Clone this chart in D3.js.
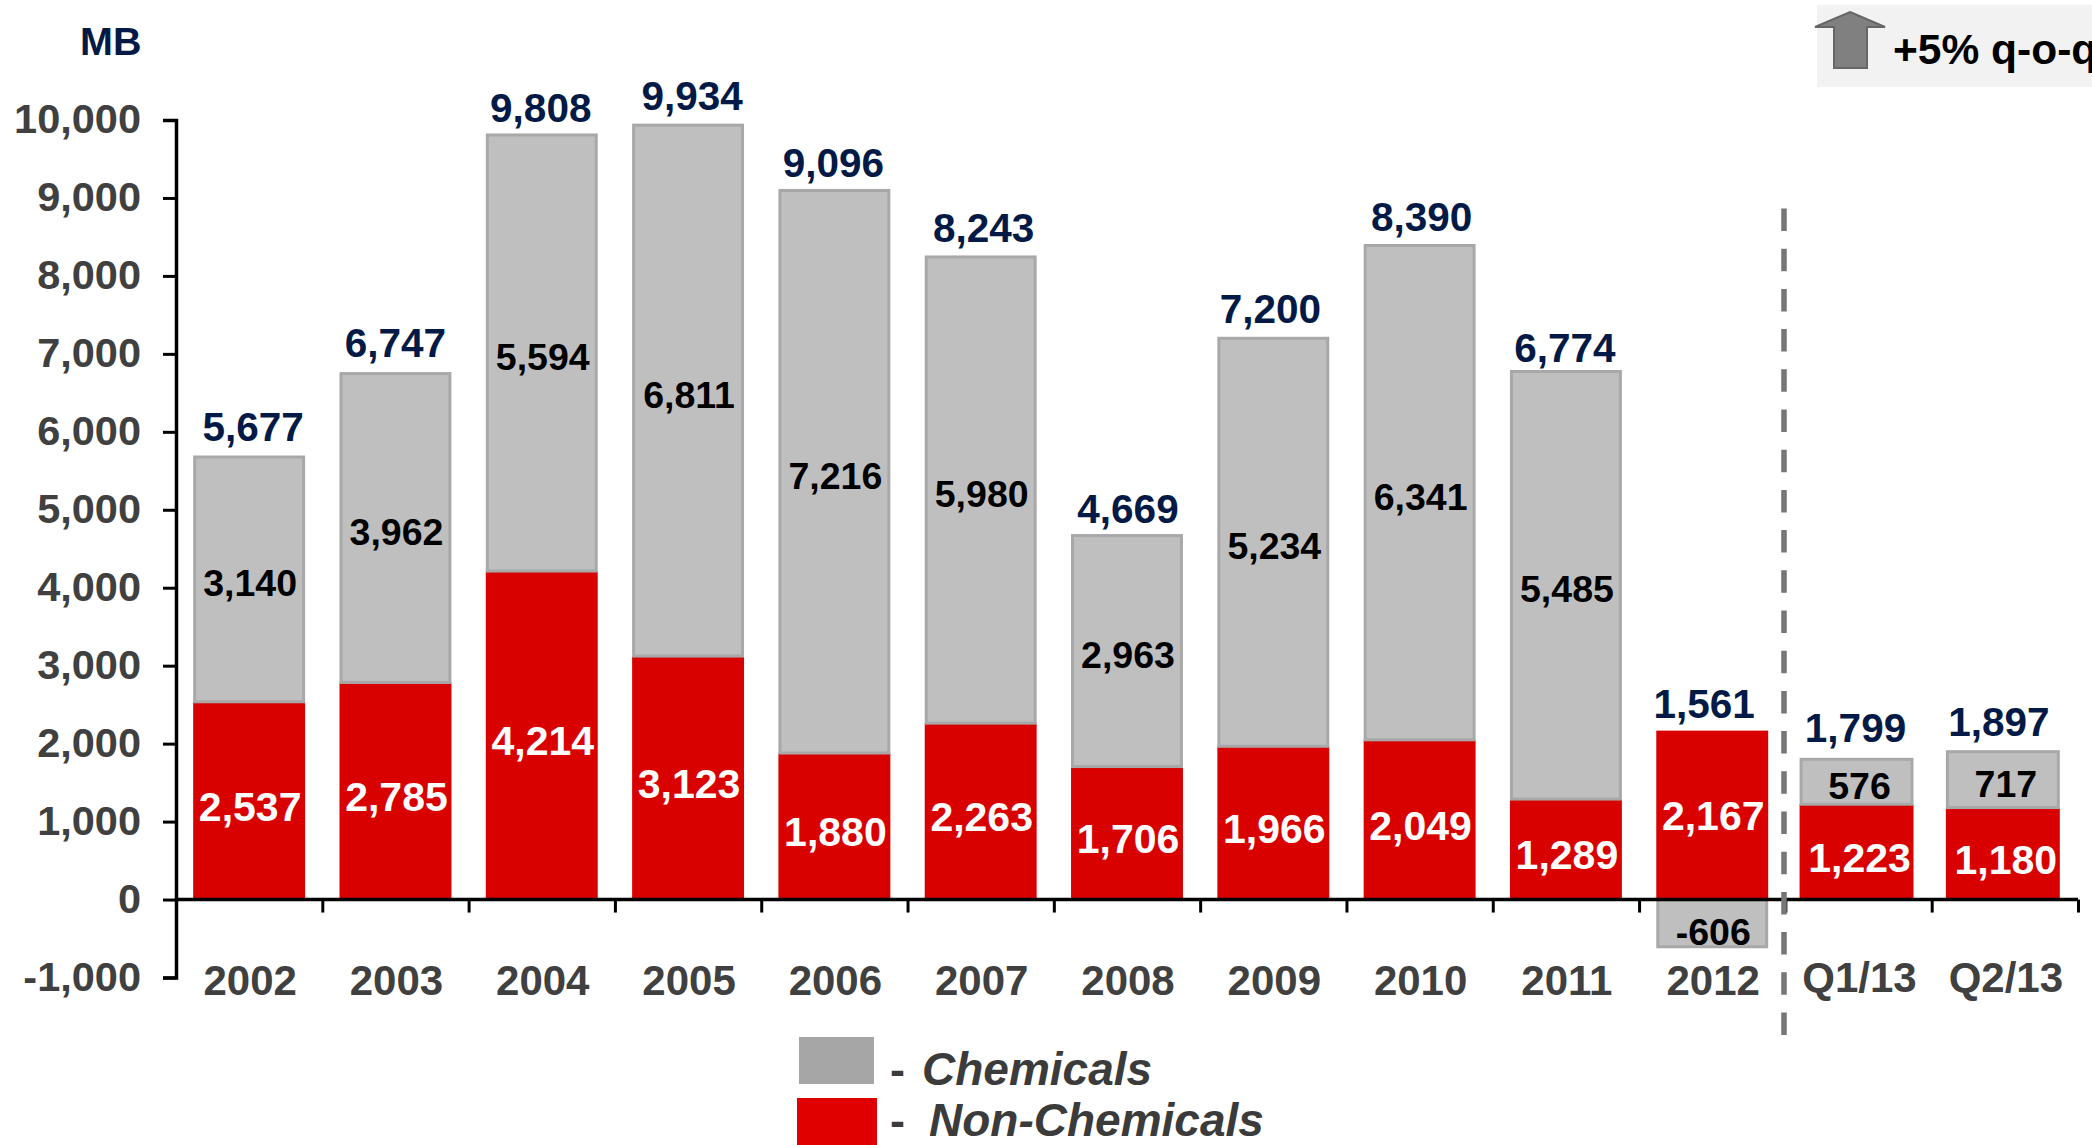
<!DOCTYPE html>
<html>
<head>
<meta charset="utf-8">
<script src="https://cdn.jsdelivr.net/npm/d3@7/dist/d3.min.js"></script>
<style>
html,body{margin:0;padding:0;background:#fff;overflow:hidden}
svg{display:block}
text{font-family:"Liberation Sans",Arial,sans-serif;font-weight:bold}
</style>
</head>
<body>
<svg id="c" width="2092" height="1145"></svg>
<script>
const categories = ["2002","2003","2004","2005","2006","2007","2008","2009","2010","2011","2012","Q1/13","Q2/13"];
const nonChemicals = [2537,2785,4214,3123,1880,2263,1706,1966,2049,1289,2167,1223,1180];
const chemicals = [3140,3962,5594,6811,7216,5980,2963,5234,6341,5485,-606,576,717];
const totals = [5677,6747,9808,9934,9096,8243,4669,7200,8390,6774,1561,1799,1897];
const yTicks = [-1000,0,1000,2000,3000,4000,5000,6000,7000,8000,9000,10000];
const legendLabels = ["Chemicals","Non-Chemicals"];
const calloutText = "+5% q-o-q";
// hand placement of the total labels in the reference (pixels)
const totalNudgeX = [2,-2,-3,2,-3,1,-1,-5,0,-3,-10,-5,-8];
const totalNudgeY = [-4,-5,-1,-3,-1,-3,-1,-3,-3,3,-1,-5,-4];

const RED="#d90000", GRAY="#bfbfbf", GRAYLINE="#a8a8a8", NAVY="#021a45", AXT="#404040";
const svg=d3.select("#c");
const fmt=v=>d3.format(",")(v).replace("\u2212","-");

const y=d3.scaleLinear().domain([-1000,10000]).range([977.5,120]);
const x=d3.scaleBand().domain(categories).range([176,2078]).paddingInner(0.235).paddingOuter(0.1175);
const edge=d3.scaleLinear().domain([0,categories.length]).range([176,2078]);
const isQ=c=>c[0]==="Q";
const barX=c=>x(c)+(isQ(c)?-3:0);
const barW=c=>x.bandwidth()+(isQ(c)?2:0);

const rows=categories.map((c,i)=>({cat:c,nonChem:nonChemicals[i],chem:chemicals[i],total:totals[i],i}));
const stack=d3.stack().keys(["nonChem","chem"]).offset(d3.stackOffsetDiverging)(rows);

// callout
svg.append("rect").attr("x",1817).attr("y",5).attr("width",275).attr("height",82).attr("fill","#f2f2f2");

// bars: red first, grey with its outline on top
stack.forEach(s=>{
  const isChem=s.key==="chem";
  const inset=isChem?1.5:0;
  svg.append("g").selectAll("rect").data(s).join("rect")
    .attr("x",d=>barX(d.data.cat)+inset)
    .attr("width",d=>barW(d.data.cat)-2*inset)
    .attr("y",d=>y(Math.max(d[0],d[1])))
    .attr("height",d=>Math.abs(y(d[0])-y(d[1])))
    .attr("fill",isChem?GRAY:RED)
    .attr("stroke",isChem?GRAYLINE:"none")
    .attr("stroke-width",3);
});

// axes
const yAxis=d3.axisLeft(y).tickValues(yTicks).tickSize(13).tickPadding(22).tickFormat(fmt);
const yg=svg.append("g").attr("transform","translate(176,0)").call(yAxis);
yg.select(".domain").attr("stroke","#000").attr("stroke-width",3.5);
yg.selectAll(".tick line").attr("stroke","#000").attr("stroke-width",3);
yg.selectAll("text").attr("font-size",41.5).attr("fill",AXT).attr("dy","0.31em").style("font-family",'"Liberation Sans"').style("font-weight","bold");

const xAxis=d3.axisBottom(edge).tickValues(d3.range(categories.length+1)).tickSize(13).tickFormat("");
const xg=svg.append("g").attr("transform",`translate(0,${y(0)})`).call(xAxis);
xg.select(".domain").attr("stroke","#000").attr("stroke-width",3.5).attr("d",`M176,0H2078`);
xg.selectAll(".tick line").attr("stroke","#000").attr("stroke-width",3);
xg.selectAll(".tick").filter(d=>d===0).remove();

// x labels
svg.append("g").selectAll("text").data(categories).join("text")
  .attr("x",c=>x(c)+x.bandwidth()/2+1)
  .attr("y",c=>isQ(c)?992:995)
  .attr("text-anchor","middle").attr("font-size",42).attr("fill",AXT).text(c=>c);

// value labels
const cx=d=>x(d.cat)+x.bandwidth()/2;
svg.append("g").selectAll("text").data(rows).join("text")
  .attr("x",d=>cx(d)+1)
  .attr("y",d=>y(d.nonChem/2)+(d.chem<0?15:20))
  .attr("text-anchor","middle").attr("font-size",41).attr("fill","#fff").text(d=>fmt(d.nonChem));
svg.append("g").selectAll("text").data(rows).join("text")
  .attr("x",d=>cx(d)+1)
  .attr("y",d=>(d.chem<0?y(d.chem/2)+22:y(d.nonChem+d.chem/2)+17))
  .attr("text-anchor","middle").attr("font-size",37.5).attr("fill","#000").text(d=>fmt(d.chem));
svg.append("g").selectAll("text").data(rows).join("text")
  .attr("x",d=>cx(d)+2+totalNudgeX[d.i])
  .attr("y",d=>y(d.chem<0?d.nonChem:d.total)-12+totalNudgeY[d.i])
  .attr("text-anchor","middle").attr("font-size",40.5).attr("fill",NAVY).text(d=>fmt(d.total));

// divider
svg.append("line").attr("x1",1784).attr("x2",1784).attr("y1",208.5).attr("y2",1037)
  .attr("stroke","#767676").attr("stroke-width",5.5).attr("stroke-dasharray","22.5 17.7");

// MB
svg.append("text").attr("x",80).attr("y",55).attr("font-size",39.5).attr("fill",NAVY).text("MB");

// arrow
svg.append("path").attr("d","M1850,12L1885,27H1867V68H1834V27H1815Z").attr("fill","#808080").attr("stroke","#666").attr("stroke-width",2);
svg.append("text").attr("x",1893).attr("y",64).attr("font-size",42.5).attr("fill","#000").text(calloutText);

// legend
svg.append("rect").attr("x",799).attr("y",1037).attr("width",75).attr("height",47).attr("fill","#a6a6a6");
svg.append("rect").attr("x",797).attr("y",1098).attr("width",80).attr("height",47).attr("fill","#e00000");
const leg=svg.append("g").attr("fill","#3b3b3b");
leg.append("text").attr("x",890).attr("y",1085).attr("font-size",45).text("-");
leg.append("text").attr("x",890).attr("y",1136).attr("font-size",45).text("-");
leg.append("text").attr("x",922).attr("y",1085).attr("font-size",46).attr("font-style","italic").text(legendLabels[0]);
leg.append("text").attr("x",929).attr("y",1136).attr("font-size",46).attr("font-style","italic").text(legendLabels[1]);
</script>
</body>
</html>
